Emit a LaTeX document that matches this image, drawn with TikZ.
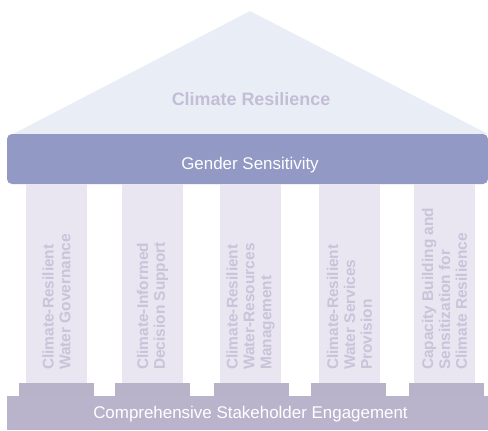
\documentclass[tikz,border=0pt]{standalone}
\usepackage{fontspec}
\setmainfont{Liberation Sans}
\definecolor{roof}{HTML}{E9EEF6}
\definecolor{rooftext}{HTML}{C3BED6}
\definecolor{beam}{HTML}{9299C5}
\definecolor{colfill}{HTML}{E9E6F1}
\definecolor{coltext}{HTML}{C8C4DA}
\definecolor{plinth}{HTML}{B8B3C9}
\definecolor{basefill}{HTML}{B9B4CC}
\tikzset{
  pillar/.style={fill=colfill, draw=none},
  plinthbox/.style={fill=plinth, draw=none},
  pillartext/.style={rotate=90, anchor=west, align=left, inner sep=0pt, text=coltext,
    font=\fontsize{15.5}{17}\selectfont\bfseries},
}
\begin{document}
\begin{tikzpicture}[x=1bp, y=-1bp]
\useasboundingbox (0,0) rectangle (488,430);
% roof
\fill[roof] (250,11) -- (488,134) -- (13,134) -- cycle;
\node[text=rooftext, font=\fontsize{18}{20}\selectfont\bfseries] (roofl) at (251,99) {Climate Resilience};
% beam
\fill[beam, rounded corners=5bp] (7,134) rectangle (488,184);
\node[text=white, font=\fontsize{17}{19}\selectfont] (beaml) at (250,165) {Gender Sensitivity};
% pillars
\foreach \x/\n in {26/1,122/2,220/3,319/4,414/5}{
  \fill[pillar] (\x,184) rectangle (\x+61,383);
}
\foreach \x in {19,115,214,311,409}{
  \fill[plinthbox] (\x,383) rectangle (\x+75,396);
}
\node[pillartext] (p1) at (56.5,370) {Climate-Resilient\\Water Governance};
\node[pillartext] (p2) at (152.5,370) {Climate-Informed\\Decision Support};
\node[pillartext] (p3) at (250.5,370) {Climate-Resilient\\Water-Resources\\Management};
\node[pillartext] (p4) at (349.5,370) {Climate-Resilient\\Water Services\\Provision};
\node[pillartext] (p5) at (444.5,370) {Capacity Building and\\Sensitization for\\Climate Resilience};
% base
\fill[basefill] (7,396) rectangle (488,430);
\node[text=white, font=\fontsize{17}{19}\selectfont] (basel) at (250.5,414) {Comprehensive Stakeholder Engagement};
\end{tikzpicture}
\end{document}
